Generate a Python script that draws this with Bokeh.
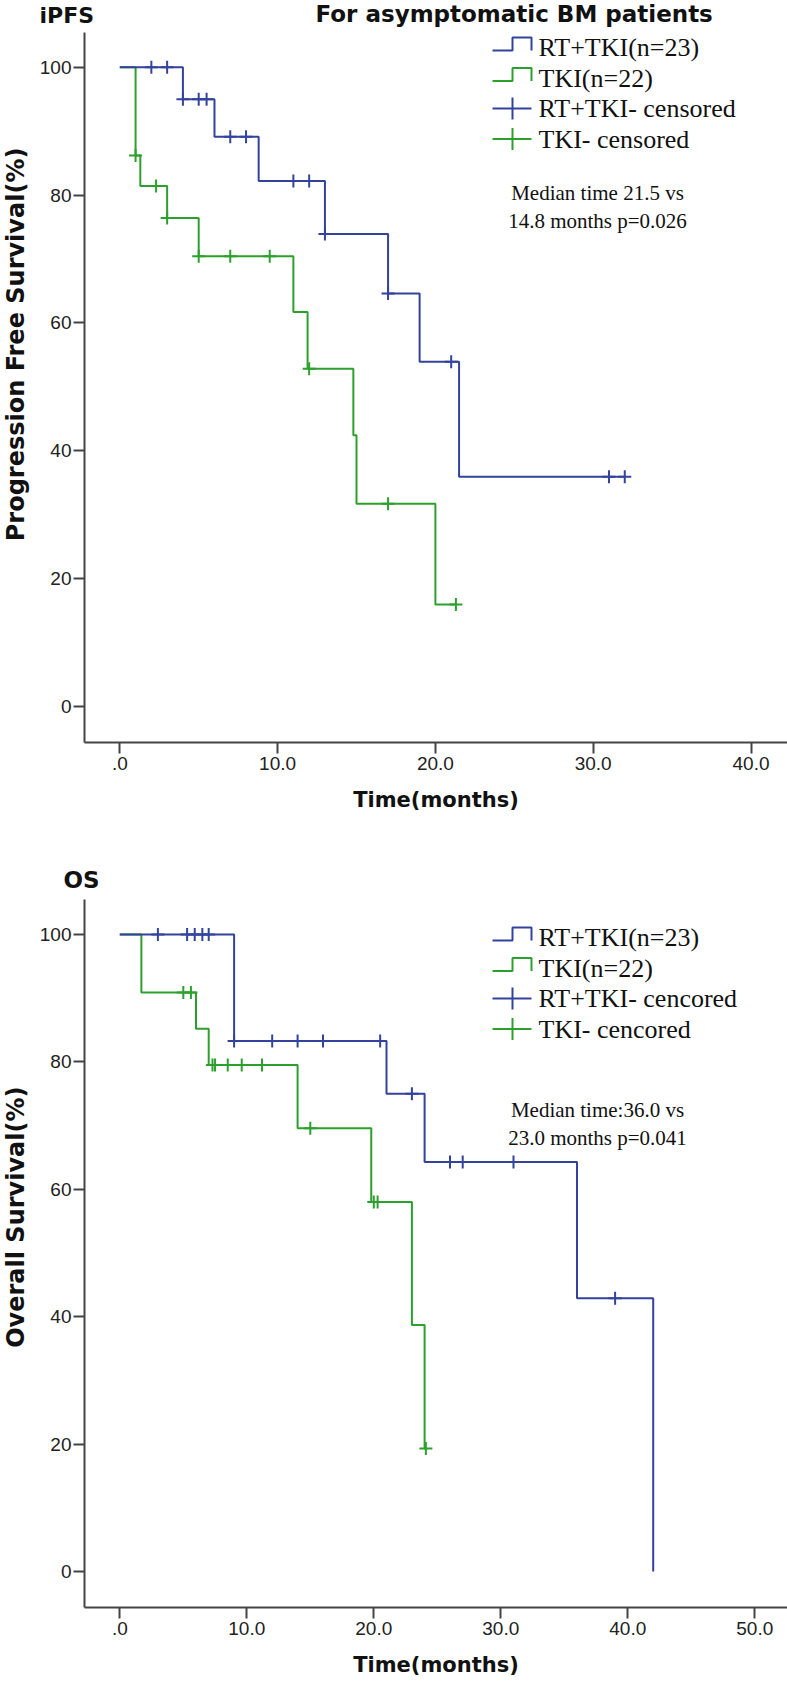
import numpy as np
from bokeh.plotting import figure
from bokeh.layouts import column, row
from bokeh.models import Label, FixedTicker, Range1d
from bokeh.embed import file_html
from bokeh.resources import INLINE

# ---------------- data ----------------
# iPFS panel
pfs_rt_time = [0.0, 4.0, 6.0, 8.8, 13.0, 17.0, 19.0, 21.5, 32.0]
pfs_rt_surv = [100.0, 95.0, 89.1, 82.2, 73.9, 64.6, 53.9, 35.9, 35.9]
pfs_rt_cens = [2.0, 3.0, 4.0, 5.0, 5.5, 7.0, 8.0, 11.0, 12.0, 13.0, 17.0, 21.0, 31.0, 32.0]

pfs_tki_time = [0.0, 1.0, 1.3, 3.0, 5.0, 11.0, 11.9, 14.8, 15.0, 20.0, 21.3]
pfs_tki_surv = [100.0, 86.2, 81.4, 76.4, 70.4, 61.7, 52.8, 42.4, 31.7, 15.9, 15.9]
pfs_tki_cens = [1.0, 2.3, 3.0, 5.0, 7.0, 9.5, 12.0, 17.0, 21.3]

# OS panel
os_rt_time = [0.0, 9.0, 21.0, 24.0, 36.0, 42.0]
os_rt_surv = [100.0, 83.3, 75.0, 64.3, 42.9, 0.0]
os_rt_cens = [3.0, 5.3, 5.9, 6.5, 7.0, 9.0, 12.0, 14.0, 16.0, 20.5, 23.0, 26.0, 27.0, 31.0, 39.0]

os_tki_time = [0.0, 1.7, 6.0, 7.0, 14.0, 19.8, 23.0, 24.0, 24.1]
os_tki_surv = [100.0, 90.9, 85.2, 79.5, 69.6, 58.0, 38.7, 19.3, 19.3]
os_tki_cens = [5.0, 5.6, 7.3, 7.5, 8.5, 9.6, 11.2, 15.0, 20.0, 20.3, 24.1]

y_ticks = [0, 20, 40, 60, 80, 100]
pfs_x_ticks = [0, 10, 20, 30, 40]
pfs_x_labels = [".0", "10.0", "20.0", "30.0", "40.0"]
os_x_ticks = [0, 10, 20, 30, 40, 50]
os_x_labels = [".0", "10.0", "20.0", "30.0", "40.0", "50.0"]

pfs_legend = ["RT+TKI(n=23)", "TKI(n=22)", "RT+TKI- censored", "TKI- censored"]
os_legend = ["RT+TKI(n=23)", "TKI(n=22)", "RT+TKI- cencored", "TKI- cencored"]
pfs_note = ["Median time 21.5 vs", "14.8 months p=0.026"]
os_note = ["Median time:36.0 vs", "23.0 months p=0.041"]

BLUE = "#33439c"
GREEN = "#2ca02c"
AXIS = "#444444"
TXT = "#111111"
SANS = "Liberation Sans"
BOLD = "DejaVu Sans"
SERIF = "Liberation Serif"

PAGE_R = 787.0   # right edge of the page
STRIP_R = 30.0   # right edge of the y-title strip
FRAME_L = 84.0   # page x of the y axis


def surv_at(times, surv, t):
    idx = np.searchsorted(np.asarray(times), t, side="right") - 1
    return np.asarray(surv)[idx]


def blank(x0, x1, y0, y1):
    """A plain figure whose data coordinates equal page pixels."""
    f = figure(width=int(x1 - x0), height=int(y1 - y0), output_backend="svg",
               toolbar_location=None, x_axis_location=None, y_axis_location=None,
               x_range=Range1d(x0, x1), y_range=Range1d(y1, y0),
               min_border=0, min_border_left=0, min_border_right=0,
               min_border_top=0, min_border_bottom=0,
               background_fill_color="white", border_fill_color="white")
    f.outline_line_color = None
    f.grid.visible = False
    return f


def header(y0, y1, items):
    h = blank(0, PAGE_R, y0, y1)
    for txt, tx, ty, size in items:
        h.add_layout(Label(x=tx, y=ty, text=txt, text_baseline="top",
                           text_font=BOLD, text_font_style="bold", text_font_size=size,
                           text_color=TXT))
    return h


def ylabel_strip(y0, y1, text, cy):
    s = blank(0, STRIP_R, y0, y1)
    s.add_layout(Label(x=STRIP_R / 2, y=cy, text=text, angle=np.pi / 2,
                       text_align="center", text_baseline="middle", text_font=BOLD,
                       text_font_style="bold", text_font_size="24px", text_color=TXT))
    return s


def panel(page_top, page_bottom, frame_bottom, x0_px, px_per_x, y0_px, px_per_y,
          x_ticks, x_labels, curves, legend, legend_y, note, note_y):
    height = int(page_bottom - page_top)

    def xd(px):
        return (px - x0_px) / px_per_x

    def yd(py):
        return (y0_px - py) / px_per_y

    p = figure(width=int(PAGE_R - STRIP_R), height=height, output_backend="svg",
               toolbar_location=None,
               x_range=Range1d(xd(FRAME_L), xd(PAGE_R)),
               y_range=Range1d(yd(frame_bottom), yd(page_top)),
               min_border_left=int(FRAME_L - STRIP_R), min_border_right=0,
               min_border_top=0, min_border_bottom=int(page_bottom - frame_bottom),
               background_fill_color="white", border_fill_color="white")
    p.outline_line_color = None
    p.grid.visible = False
    for ax in (p.xaxis[0], p.yaxis[0]):
        ax.axis_line_color = AXIS
        ax.axis_line_width = 2
        ax.major_tick_line_color = AXIS
        ax.major_tick_line_width = 2
        ax.major_tick_out = 11
        ax.major_tick_in = 0
        ax.minor_tick_line_color = None
        ax.major_label_text_font = SANS
        ax.major_label_text_font_size = "19px"
        ax.major_label_text_color = "#222222"
    p.xaxis.ticker = FixedTicker(ticks=x_ticks)
    p.xaxis.major_label_overrides = {t: l for t, l in zip(x_ticks, x_labels)}
    p.xaxis.major_label_standoff = 3
    p.xaxis.axis_label = "Time(months)"
    p.xaxis.axis_label_text_font = BOLD
    p.xaxis.axis_label_text_font_style = "bold"
    p.xaxis.axis_label_text_font_size = "21px"
    p.xaxis.axis_label_text_color = TXT
    p.xaxis.axis_label_standoff = 15
    p.yaxis.ticker = FixedTicker(ticks=y_ticks)
    p.yaxis.major_label_standoff = 2

    for times, surv, cens, color in curves:
        p.step(times, surv, mode="after", line_color=color, line_width=2)
        p.scatter(cens, surv_at(times, surv, cens), marker="cross", size=13,
                  line_color=color, line_width=2)

    # drawn legend
    sx0, sx1, sx2 = 492, 512, 531
    colors = [BLUE, GREEN, BLUE, GREEN]
    for i, (txt, col, cy) in enumerate(zip(legend, colors, legend_y)):
        if i < 2:
            p.line([xd(sx0), xd(sx1), xd(sx1), xd(sx2), xd(sx2)],
                   [yd(cy + 3), yd(cy + 3), yd(cy - 10), yd(cy - 10), yd(cy + 3)],
                   line_color=col, line_width=2)
        else:
            p.line([xd(sx0), xd(sx2)], [yd(cy), yd(cy)], line_color=col, line_width=2)
            p.line([xd(sx1), xd(sx1)], [yd(cy - 11), yd(cy + 11)], line_color=col, line_width=2)
        p.add_layout(Label(x=xd(538), y=yd(cy), text=txt, text_baseline="middle",
                           text_font=SERIF, text_font_size="26px", text_color=TXT))
    for txt, ny in zip(note, note_y):
        p.add_layout(Label(x=xd(597), y=yd(ny), text=txt, text_align="center",
                           text_baseline="middle", text_font=SERIF, text_font_size="21px",
                           text_color=TXT))
    return p


h1 = header(0, 32, [("iPFS", 39, 2.5, "22px"), ("For asymptomatic BM patients", 315, 0.5, "23px")])
p1 = panel(page_top=32, page_bottom=840, frame_bottom=742,
           x0_px=119.3, px_per_x=15.78, y0_px=705.7, px_per_y=6.39,
           x_ticks=pfs_x_ticks, x_labels=pfs_x_labels,
           curves=[(pfs_tki_time, pfs_tki_surv, pfs_tki_cens, GREEN),
                   (pfs_rt_time, pfs_rt_surv, pfs_rt_cens, BLUE)],
           legend=pfs_legend, legend_y=[47, 77.5, 108, 138.5],
           note=pfs_note, note_y=[192, 220])
s1 = ylabel_strip(32, 840, "Progression Free Survival(%)", 387)

h2 = header(840, 899, [("OS", 63, 866, "23px")])
p2 = panel(page_top=899, page_bottom=1688, frame_bottom=1607,
           x0_px=119.3, px_per_x=12.7, y0_px=1571.0, px_per_y=6.37,
           x_ticks=os_x_ticks, x_labels=os_x_labels,
           curves=[(os_tki_time, os_tki_surv, os_tki_cens, GREEN),
                   (os_rt_time, os_rt_surv, os_rt_cens, BLUE)],
           legend=os_legend, legend_y=[937, 967.5, 998, 1028.5],
           note=os_note, note_y=[1109, 1137])
s2 = ylabel_strip(899, 1688, "Overall Survival(%)", 1253)

layout = column(h1, row(s1, p1), h2, row(s2, p2))
open("out.html", "w").write(file_html(layout, INLINE))
